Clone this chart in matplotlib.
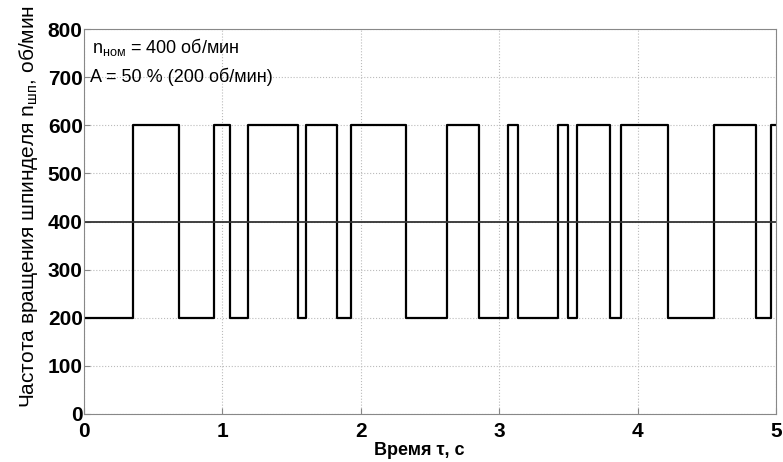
import numpy as np
import matplotlib
matplotlib.use("Agg")
import matplotlib.pyplot as plt

# ── DATA ────────────────────────────────────────────────────────────────
# switching moments of the spindle speed (s) and level after each switch
switch_t = [0.0, 0.352, 0.684, 0.937, 1.053, 1.183, 1.544, 1.603, 1.826,
            1.929, 2.329, 2.625, 2.854, 3.066, 3.138, 3.423, 3.495, 3.565,
            3.801, 3.878, 4.217, 4.552, 4.855, 4.962, 5.0]
speed = [200, 600, 200, 600, 200, 600, 200, 600, 200,
         600, 200, 600, 200, 600, 200, 600, 200, 600,
         200, 600, 200, 600, 200, 600, 600]
n_nom = 400
x_ticks = [0, 1, 2, 3, 4, 5]
y_ticks = [0, 100, 200, 300, 400, 500, 600, 700, 800]

plt.rcParams["font.family"] = ["Liberation Sans", "DejaVu Sans"]

fig = plt.figure(figsize=(7.83, 4.62), dpi=100)
ax = fig.add_axes([0.1073, 0.104, 0.8837, 0.833])

ax.step(switch_t, speed, where="post", color="black", linewidth=1.6)
ax.axhline(n_nom, color="#333333", linewidth=1.3)

ax.set_xlim(0, 5)
ax.set_ylim(0, 800)
ax.set_xticks(x_ticks)
ax.set_yticks(y_ticks)
ax.tick_params(labelsize=15, direction="in", length=4, color="#888888")
ax.tick_params(axis="x", pad=6)
ax.tick_params(axis="y", pad=1)
for lbl in ax.get_xticklabels() + ax.get_yticklabels():
    lbl.set_fontweight("bold")
ax.grid(True, color="#bbbbbb", linestyle=":", linewidth=0.8)
ax.set_axisbelow(True)
for s in ax.spines.values():
    s.set_color("#888888")

ax.set_xlabel("Время τ, с", fontsize=13, fontweight="bold")
ax.xaxis.set_label_coords(0.484, -0.072, transform=ax.transAxes)
ax.xaxis.label.set_va("top")
ax.set_ylabel("Частота вращения шпинделя n$_{\\mathregular{шп}}$, об/мин",
              fontsize=15)
ax.yaxis.set_label_coords(-0.08, 0.54, transform=ax.transAxes)
ax.yaxis.label.set_va("center")

ax.text(0.012, 0.982, "n$_{\\mathregular{ном}}$ = 400 об/мин", transform=ax.transAxes,
        fontsize=13, va="top", ha="left")
ax.text(0.008, 0.875, "A = 50 % (200 об/мин)", transform=ax.transAxes,
        fontsize=13, va="center", ha="left")

fig.savefig("out.png", dpi=100)
